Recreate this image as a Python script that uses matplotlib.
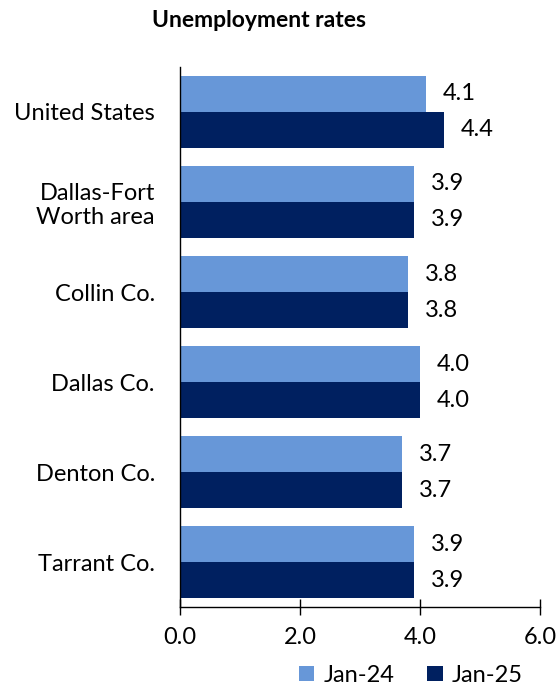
import matplotlib
matplotlib.use("Agg")
import matplotlib.pyplot as plt
import numpy as np

# --- Datos ---
categories = ["United States", "Dallas-Fort\nWorth area", "Collin Co.",
              "Dallas Co.", "Denton Co.", "Tarrant Co."]
jan24 = [4.1, 3.9, 3.8, 4.0, 3.7, 3.9]
jan25 = [4.4, 3.9, 3.8, 4.0, 3.7, 3.9]
series_names = ["Jan-24", "Jan-25"]
xticks = [0.0, 2.0, 4.0, 6.0]

LIGHT = "#6797D8"
DARK = "#002060"
FS = 17

plt.rcParams["font.family"] = ["Lato", "DejaVu Sans"]

fig = plt.figure(figsize=(5.59, 6.87), dpi=100)
ax = fig.add_axes([0.322, 0.1164, 0.644, 0.7861])

y = np.arange(len(categories))
h = 0.4
b1 = ax.barh(y - h / 2, jan24, height=h, color=LIGHT, label=series_names[0])
b2 = ax.barh(y + h / 2, jan25, height=h, color=DARK, label=series_names[1])

# Etiquetas de valor a la derecha de cada barra
for bars in (b1, b2):
    for rect in bars:
        v = rect.get_width()
        ax.annotate(f"{v:.1f}", (v, rect.get_y() + rect.get_height() / 2),
                    xytext=(12, 0), textcoords="offset points",
                    va="center", ha="left", fontsize=FS)

ax.set_ylim(len(categories) - 0.5, -0.5)
ax.set_xlim(0, 6)
ax.set_xticks(xticks)
ax.set_xticklabels([f"{t:.1f}" for t in xticks], fontsize=FS)
ax.set_yticks(y)
ax.set_yticklabels(categories, fontsize=FS)
ax.tick_params(axis="y", length=0, pad=18)
ax.tick_params(axis="x", direction="inout", length=11, width=1, pad=9)

for s in ("top", "right"):
    ax.spines[s].set_visible(False)
ax.spines["left"].set_linewidth(1)
ax.spines["bottom"].set_linewidth(1)

fig.text(0.463, 0.97, "Unemployment rates", ha="center", va="center",
         fontsize=16.5, fontweight="bold")

fig.legend(handles=[b1, b2], labels=series_names, loc="center",
           bbox_to_anchor=(0.735, 0.017), ncol=2, frameon=False,
           fontsize=FS, handlelength=0.65, handleheight=0.65,
           handletextpad=0.4, columnspacing=1.4)

fig.savefig("out.png", dpi=100)
plt.close(fig)
